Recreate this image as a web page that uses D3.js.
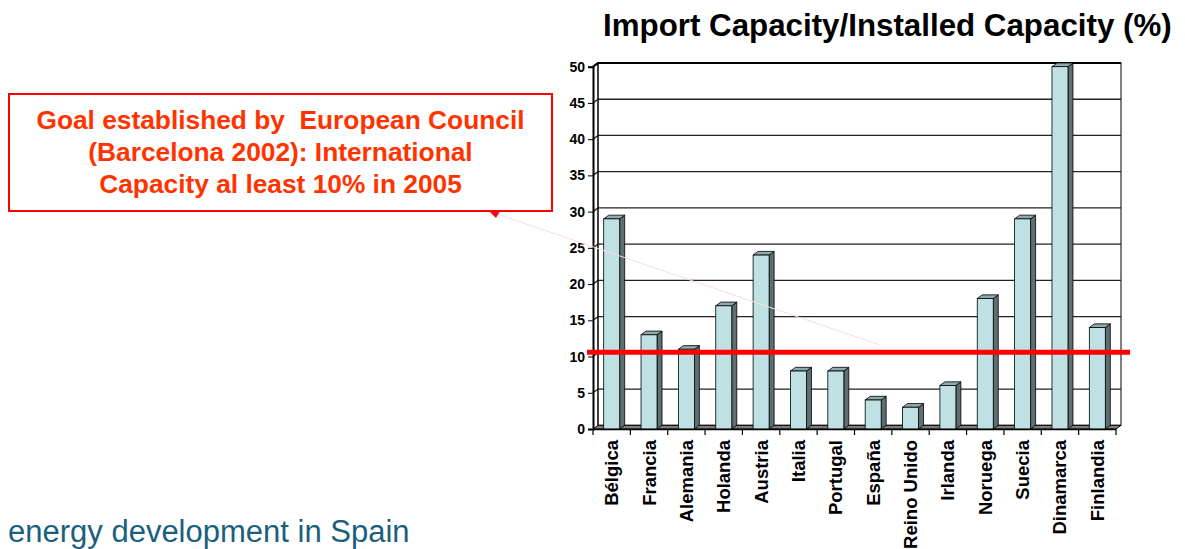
<!DOCTYPE html>
<meta charset="utf-8">
<html>
<head>
    <title>Import Capacity</title>
    <style>
        body { margin: 0; background: #fff; }
        text { font-family: "Liberation Sans", Arial, sans-serif; }
    </style>
</head>
<body>
    <script src="https://cdnjs.cloudflare.com/ajax/libs/d3/7.8.5/d3.min.js"></script>
    <script>
        // datos
        var categories = ["Bélgica", "Francia", "Alemania", "Holanda", "Austria", "Italia", "Portugal",
            "España", "Reino Unido", "Irlanda", "Noruega", "Suecia", "Dinamarca", "Finlandia"];
        var values = [29, 13, 11, 17, 24, 8, 8, 4, 3, 6, 18, 29, 50, 14];
        var yTicks = [0, 5, 10, 15, 20, 25, 30, 35, 40, 45, 50];
        var goalValue = 10.6; // linea roja dibujada a mano
        var titleText = "Import Capacity/Installed Capacity (%)";
        var noteLines = ["Goal established by  European Council", "(Barcelona 2002): International",
            "Capacity al least 10% in 2005"];
        var footerText = "energy development in Spain";

        var W = 1185, H = 549;
        var dx = 5, dy = -3.7; // profundidad 3D

        var svg = d3.select("body").append("svg")
            .attr("width", W)
            .attr("height", H);

        var x = d3.scaleBand().domain(categories).range([593, 1116]).padding(0);
        var y = d3.scaleLinear().domain([0, 50]).range([429, 66.7]);
        var barW = 16;
        var x0 = x.range()[0], x1 = x.range()[1], yb = y(0), yt = y(50);

        // pared de fondo
        svg.append("rect")
            .attr("x", x0 + dx).attr("y", yt + dy)
            .attr("width", x1 - x0).attr("height", yb - yt)
            .attr("fill", "#fff").attr("stroke", "#000").attr("stroke-width", 1);

        // lineas de grilla (pared de fondo + pared lateral)
        var grid = svg.append("g");
        yTicks.forEach(function (t) {
            if (t === 0) return;
            grid.append("path")
                .attr("d", "M" + x0 + "," + y(t) + "L" + (x0 + dx) + "," + (y(t) + dy) + "L" + (x1 + dx) + "," + (y(t) + dy))
                .attr("fill", "none")
                .attr("stroke", t === 50 ? "#000" : "#222")
                .attr("stroke-width", t === 50 ? 2.2 : 1.3);
        });

        // pared lateral izquierda
        svg.append("line")
            .attr("x1", x0 + dx).attr("y1", yt + dy).attr("x2", x0 + dx).attr("y2", yb + dy)
            .attr("stroke", "#000").attr("stroke-width", 1);

        // piso
        svg.append("path")
            .attr("d", "M" + x0 + "," + yb + "L" + x1 + "," + yb + "L" + (x1 + dx) + "," + (yb + dy) + "L" + (x0 + dx) + "," + (yb + dy) + "Z")
            .attr("fill", "#7f7f7f").attr("stroke", "#000").attr("stroke-width", 1);

        // barras 3D
        var bars = svg.selectAll("g.bar")
            .data(values)
            .enter()
            .append("g")
            .attr("class", "bar");

        function bx(d, i) { return x(categories[i]) + (x.bandwidth() - barW) / 2; }

        bars.append("path") // lado
            .attr("d", function (d, i) {
                var l = bx(d, i) + barW, t = y(d);
                return "M" + l + "," + t + "L" + (l + dx) + "," + (t + dy) + "L" + (l + dx) + "," + (yb + dy) + "L" + l + "," + yb + "Z";
            })
            .attr("fill", "#5d7070").attr("stroke", "#000").attr("stroke-width", 0.8);

        bars.append("path") // techo
            .attr("d", function (d, i) {
                var l = bx(d, i), t = y(d);
                return "M" + l + "," + t + "L" + (l + dx) + "," + (t + dy) + "L" + (l + barW + dx) + "," + (t + dy) + "L" + (l + barW) + "," + t + "Z";
            })
            .attr("fill", "#8eaaab").attr("stroke", "#000").attr("stroke-width", 0.8);

        bars.append("rect") // frente
            .attr("x", bx)
            .attr("y", function (d) { return y(d); })
            .attr("width", barW)
            .attr("height", function (d) { return yb - y(d); })
            .attr("fill", "#bfe1e4").attr("stroke", "#000").attr("stroke-width", 0.8);

        // eje Y
        var yAxis = svg.append("g")
            .attr("transform", "translate(" + x0 + ",0)")
            .call(d3.axisLeft(y).tickValues(yTicks).tickSize(5).tickPadding(3));
        yAxis.select(".domain").attr("stroke", "#000").attr("stroke-width", 2);
        yAxis.selectAll("text")
            .attr("font-family", "Liberation Sans, Arial, sans-serif")
            .attr("font-weight", "bold")
            .attr("font-size", 14)
            .attr("fill", "#000");

        // eje X
        var xAxis = svg.append("g")
            .attr("transform", "translate(0," + yb + ")")
            .call(d3.axisBottom(x).tickSize(0).tickSizeOuter(0));
        xAxis.select(".domain").attr("stroke", "#000").attr("stroke-width", 1.5);
        xAxis.selectAll(".tick line").remove();
        xAxis.selectAll("text")
            .attr("font-family", "Liberation Sans, Arial, sans-serif")
            .attr("font-weight", "bold")
            .attr("font-size", 18.5)
            .attr("fill", "#000")
            .attr("transform", "rotate(-90)")
            .attr("text-anchor", "end")
            .attr("x", -11)
            .attr("y", 0)
            .attr("dy", "0.35em");
        // marcas entre categorias
        xAxis.selectAll("line.sep")
            .data(categories.concat([null]))
            .enter()
            .append("line")
            .attr("class", "sep")
            .attr("x1", function (d, i) { return x0 + i * x.step(); })
            .attr("x2", function (d, i) { return x0 + i * x.step(); })
            .attr("y1", 0).attr("y2", 6)
            .attr("stroke", "#000").attr("stroke-width", 1.2);

        // linea roja de objetivo
        svg.append("line")
            .attr("x1", 587).attr("x2", 1130)
            .attr("y1", y(goalValue)).attr("y2", y(goalValue))
            .attr("stroke", "#ff0000").attr("stroke-width", 5);

        // titulo
        svg.append("text")
            .attr("x", 603).attr("y", 36)
            .attr("font-size", 31.3)
            .attr("font-weight", "bold")
            .attr("fill", "#000")
            .text(titleText);

        // llamada
        svg.append("line")
            .attr("x1", 497).attr("y1", 214).attr("x2", 880).attr("y2", 345)
            .attr("stroke", "#fbdcdc").attr("stroke-width", 1);
        svg.append("rect")
            .attr("x", 9).attr("y", 94).attr("width", 543).attr("height", 117)
            .attr("fill", "#fff").attr("stroke", "#ff0000").attr("stroke-width", 2);
        svg.append("path")
            .attr("d", "M489,211L500,211L496,218Z")
            .attr("fill", "#ff0000");
        svg.append("g").selectAll("text")
            .data(noteLines)
            .enter()
            .append("text")
            .attr("x", 280.5)
            .attr("y", function (d, i) { return 129 + i * 32; })
            .attr("text-anchor", "middle")
            .attr("font-size", 26.3)
            .attr("font-weight", "bold")
            .attr("fill", "#ff3300")
            .style("white-space", "pre")
            .text(function (d) { return d; });

        // pie
        svg.append("text")
            .attr("x", 8).attr("y", 542)
            .attr("font-size", 31)
            .attr("fill", "#1a5f7e")
            .text(footerText);
    </script>
</body>
</html>
